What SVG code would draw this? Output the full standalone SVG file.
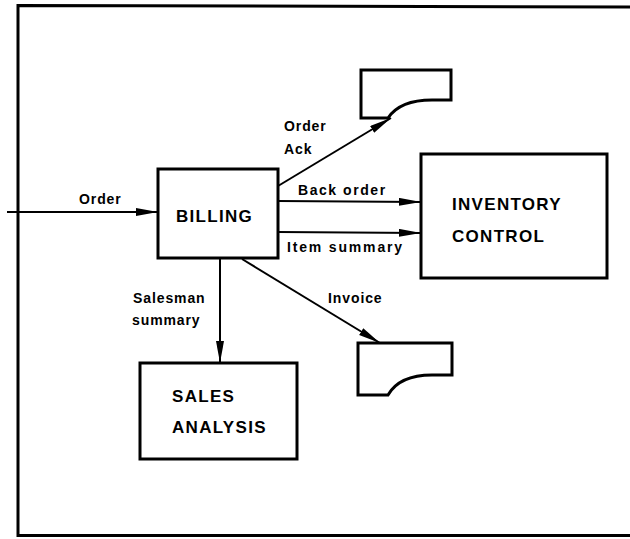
<svg xmlns="http://www.w3.org/2000/svg" width="630" height="539" viewBox="0 0 630 539">
<style>
.box{fill:#fff;stroke:#000;stroke-width:3}
.doc{fill:#fff;stroke:#000;stroke-width:3;stroke-linejoin:miter}
.frame{fill:none;stroke:#000;stroke-width:3}
.conn{fill:none;stroke:#000;stroke-width:2;marker-end:url(#ah)}
.t{font-family:"Liberation Sans",Arial,sans-serif;font-weight:bold;fill:#000}
.nt{font-size:17px;letter-spacing:1.3px}
.lt{font-size:14px;letter-spacing:0.9px}
</style>
<defs>
<marker id="ah" markerUnits="userSpaceOnUse" markerWidth="24" markerHeight="10" refX="22" refY="4" orient="auto">
<path d="M0,0 L22,4 L0,8 Z" fill="#000"/>
</marker>
</defs>
<g id="frame">
<path class="frame" d="M630,7 L18,5.5 L18,535.5 L630,535.5"/>
</g>
<g id="billing">
<rect class="box" x="158" y="169" width="120" height="89"/>
<text class="t nt" x="176" y="222">BILLING</text>
</g>
<g id="inventory-control">
<rect class="box" x="421" y="154" width="186" height="124"/>
<text class="t nt" x="452" y="210">INVENTORY</text>
<text class="t nt" x="452" y="242">CONTROL</text>
</g>
<g id="sales-analysis">
<rect class="box" x="140" y="363" width="157" height="96"/>
<text class="t nt" x="172" y="402">SALES</text>
<text class="t nt" x="172" y="433">ANALYSIS</text>
</g>
<g id="doc-order-ack">
<path class="doc" d="M361,70 L451,70 L451,100 L432,100 C410,100 396,106 388,118 L361,118 Z"/>
</g>
<g id="doc-invoice">
<path class="doc" d="M358,343 L452,343 L452,375 L432,375 C410,375 396,381 388,395 L358,395 Z"/>
</g>
<g id="connectors">
<line class="conn" x1="7" y1="212" x2="158" y2="212"/>
<line class="conn" x1="278" y1="186" x2="391" y2="118"/>
<line class="conn" x1="278" y1="201" x2="421" y2="202"/>
<line class="conn" x1="278" y1="232" x2="421" y2="233"/>
<line class="conn" x1="220" y1="258" x2="220" y2="363"/>
<line class="conn" x1="242" y1="259" x2="380" y2="343"/>
</g>
<g id="labels">
<text class="t lt" x="79" y="204">Order</text>
<text class="t lt" x="284" y="131">Order</text>
<text class="t lt" x="284" y="154">Ack</text>
<text class="t lt" x="298" y="195" textLength="88">Back order</text>
<text class="t lt" x="287" y="252" textLength="116">Item summary</text>
<text class="t lt" x="133" y="303">Salesman</text>
<text class="t lt" x="132" y="325">summary</text>
<text class="t lt" x="328" y="303">Invoice</text>
</g>
</svg>
